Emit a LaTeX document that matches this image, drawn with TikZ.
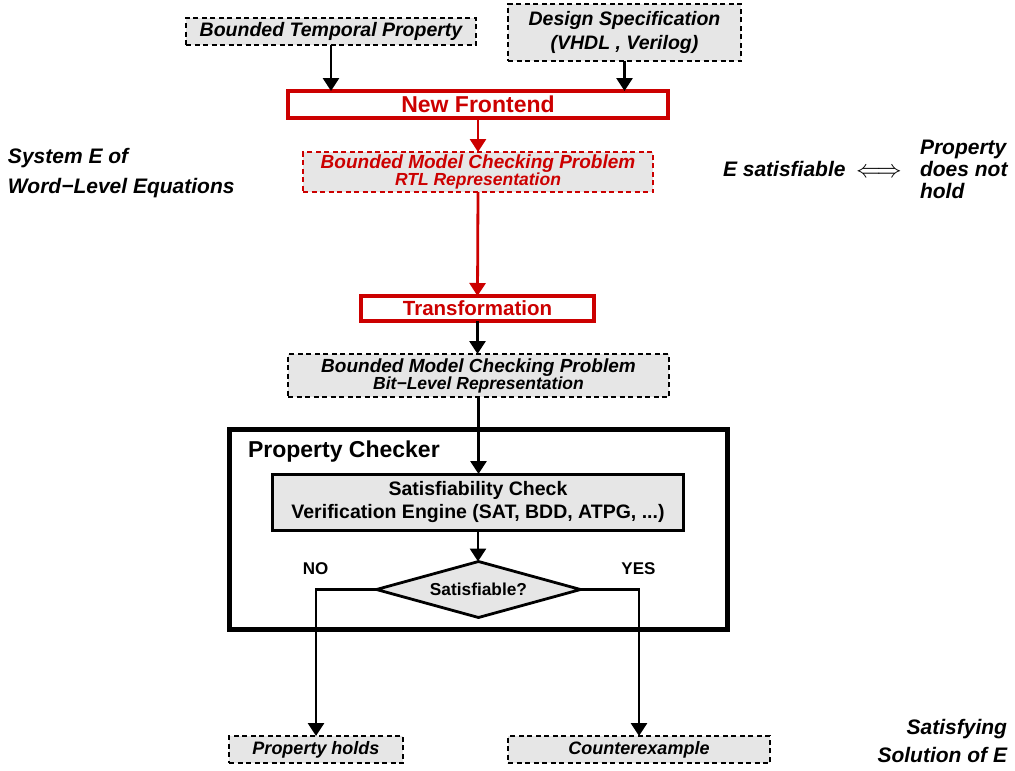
\documentclass[tikz,border=0pt]{standalone}
\usepackage{fontspec}
\setmainfont{Liberation Sans}
\usetikzlibrary{arrows.meta,shapes.geometric}
\definecolor{frontred}{RGB}{204,0,0}
\definecolor{boxgray}{RGB}{230,230,230}
\newcommand{\fsz}[2]{\fontsize{#1}{#2}\selectfont}

\begin{document}
\begin{tikzpicture}[x=1pt,y=-1pt,
  every node/.style={inner sep=0pt, outer sep=0pt},
  dashbox/.style={draw, dash pattern=on 5pt off 3.5pt, line width=2.5pt, fill=boxgray, align=center},
  redbox/.style={draw=frontred, line width=4pt, fill=white, text=frontred},
  arr/.style={line width=2.8pt, -{Triangle[width=16pt,length=13pt]}},
  redarr/.style={arr, frontred},
  note/.style={font=\bfseries\itshape\fsz{21}{28}}
]
\useasboundingbox (0,0) rectangle (1015,771);

% inputs
\node[dashbox, font=\bfseries\itshape\fsz{19.5}{24}, minimum width=290pt, minimum height=27pt] (btp) at (331,31.5) {Bounded Temporal Property};
\node[dashbox, font=\bfseries\itshape\fsz{19.5}{24}, minimum width=233pt, minimum height=57pt] (spec) at (624.5,32.5) {Design Specification\\(VHDL , Verilog)};

% frontend and RTL problem
\node[redbox, font=\bfseries\fsz{23}{26}, minimum width=380pt, minimum height=27pt] (nf) at (478,104.5) {New Frontend};
\node[dashbox, draw=frontred, text=frontred, font=\bfseries\itshape\fsz{19}{17}, minimum width=350pt, minimum height=40pt] (rtl) at (478,172) {Bounded Model Checking Problem\\{\fsz{17.5}{17}RTL Representation}};

% transformation and bit-level problem
\node[redbox, font=\bfseries\fsz{20.5}{24}, minimum width=233pt, minimum height=25pt] (tr) at (477.5,308.5) {Transformation};
\node[dashbox, font=\bfseries\itshape\fsz{19}{17}, minimum width=381pt, minimum height=43pt] (bit) at (478.5,375.5) {Bounded Model Checking Problem\\{\fsz{17.5}{17}Bit−Level Representation}};

% property checker
\node[draw, line width=4.5pt, minimum width=498pt, minimum height=200pt] (pc) at (478.5,529.5) {};
\node[anchor=base west, font=\bfseries\fsz{23}{27}] (pclabel) at (248,457) {Property Checker};
\node[draw, line width=3pt, fill=boxgray, align=center, font=\bfseries\fsz{19.5}{23}, minimum width=411pt, minimum height=56pt] (sat) at (478,502) {Satisfiability Check\\Verification Engine (SAT, BDD, ATPG, ...)};
\node[diamond, aspect=3.6, draw, line width=2.8pt, fill=boxgray, font=\bfseries\fsz{17.3}{20}, minimum width=204pt, minimum height=56pt] (dec) at (478.5,589.5) {Satisfiable?};
\node[anchor=base, font=\bfseries\fsz{17}{20}] (no) at (315.5,574) {NO};
\node[anchor=base, font=\bfseries\fsz{17}{20}] (yes) at (638.5,574) {YES};

% outcomes
\node[dashbox, font=\bfseries\itshape\fsz{18}{20}, minimum width=174pt, minimum height=27pt] (ph) at (316,749.5) {Property holds};
\node[dashbox, font=\bfseries\itshape\fsz{18}{20}, minimum width=262pt, minimum height=27pt] (ce) at (639,749.5) {Counterexample};

% side notes
\node[note, anchor=base west] (sys1) at (8,163) {System E of};
\node[note, anchor=base west] (sys2) at (8,193) {Word−Level Equations};
\node[note, anchor=base west] (esat) at (723,176) {E satisfiable};
\node[anchor=base west, font=\fsz{23}{26}] (iff) at (856,177) {$\Longleftrightarrow$};
\node[note, anchor=base west] (pr1) at (920,154) {Property};
\node[note, anchor=base west] (pr2) at (920,176) {does not};
\node[note, anchor=base west] (pr3) at (920,198) {hold};
\node[note, anchor=base east] (sol1) at (1007,734) {Satisfying};
\node[note, anchor=base east] (sol2) at (1007,762) {Solution of E};

% connectors
\draw[arr] (btp.south) -- (btp.south |- nf.north);
\draw[arr] (spec.south) -- (spec.south |- nf.north);
\draw[redarr] (nf.south) -- (rtl.north);
\draw[redarr] (rtl.south) -- (tr.north);
\draw[arr] (tr.south) -- (tr.south |- bit.north);
\draw[arr] (bit.south) -- (bit.south |- sat.north);
\draw[arr] (sat.south) -- (sat.south |- dec.north);
\draw[arr] (dec.west) -| (ph.north);
\draw[arr] (dec.east) -| (ce.north);
\end{tikzpicture}
\end{document}
